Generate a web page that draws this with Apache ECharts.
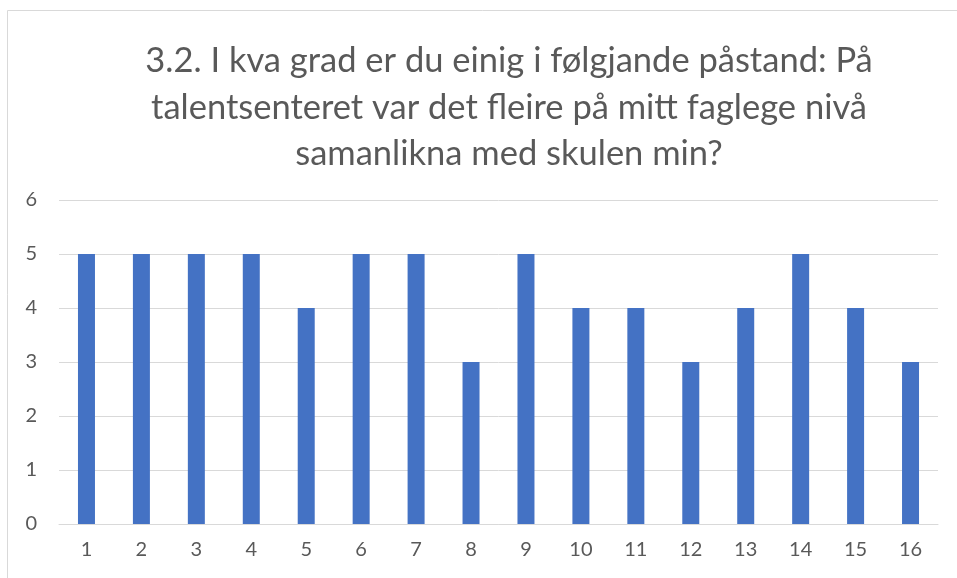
<!DOCTYPE html>
<html>
<head>
<meta charset="utf-8">
<script src="https://cdn.jsdelivr.net/npm/echarts@6/dist/echarts.min.js"></script>
<style>
  html, body { margin: 0; padding: 0; background: #fff; }
  #con { width: 957px; height: 578px; }
</style>
</head>
<body>
<div id="con"></div>
<script>
// spørsmål og svar
var titleLines = ['3.2. I kva grad er du einig i følgjande påstand: På',
                  'talentsenteret var det fleire på mitt faglege nivå',
                  'samanlikna med skulen min?'];
var categories = ['1', '2', '3', '4', '5', '6', '7', '8',
                  '9', '10', '11', '12', '13', '14', '15', '16'];
var values = [5, 5, 5, 5, 4, 5, 5, 3, 5, 4, 4, 3, 4, 5, 4, 3];
var yTicks = [0, 6, 1];// min, max, interval

var myChart = echarts.init(document.getElementById('con'));

var option = {
    animation: false,
    graphic: [{
        type: 'rect',
        shape: { x: 7.5, y: 10.5, width: 1100, height: 700 },
        style: { fill: 'none', stroke: '#d9d9d9', lineWidth: 1 },
        silent: true
    }],
    title: {
        text: titleLines.join('\n'),
        left: 504,
        top: 33,
        textAlign: 'center',
        textStyle: {
            fontFamily: 'Lato',
            fontSize: 34.5,
            fontWeight: 'normal',
            color: '#595959',
            lineHeight: 46.5
        }
    },
    grid: {
        left: 59,
        right: 19,
        top: 200,
        bottom: 54,
        containLabel: false
    },
    xAxis: {
        type: 'category',
        data: categories,
        axisLine: { lineStyle: { color: '#d9d9d9', width: 1 } },
        axisTick: { show: false },
        axisLabel: {
            color: '#595959',
            fontFamily: 'Lato',
            fontSize: 20,
            margin: 16,
            interval: 0
        }
    },
    yAxis: {
        type: 'value',
        min: yTicks[0],
        max: yTicks[1],
        interval: yTicks[2],
        axisLine: { show: false },
        axisTick: { show: false },
        splitLine: { lineStyle: { color: '#d9d9d9', width: 1 } },
        axisLabel: {
            color: '#595959',
            fontFamily: 'Lato',
            fontSize: 20,
            margin: 22
        }
    },
    series: [{
        type: 'bar',
        data: values,
        barWidth: 17,
        itemStyle: { color: '#4472c4' }
    }]
};

myChart.setOption(option);
</script>
</body>
</html>
